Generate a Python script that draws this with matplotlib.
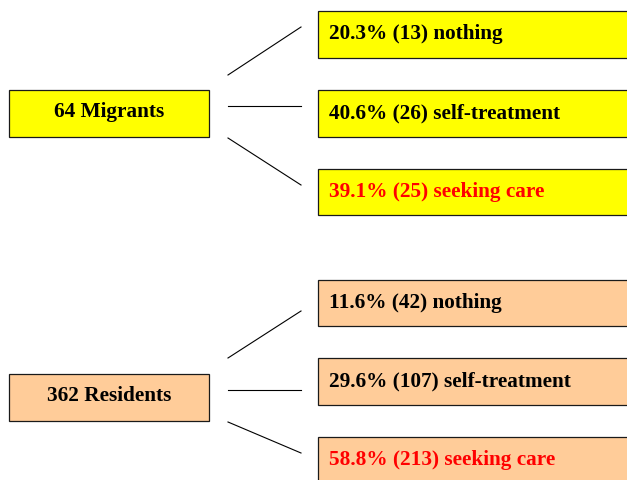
import matplotlib
matplotlib.use("Agg")
import matplotlib.pyplot as plt
from matplotlib.patches import Rectangle

# ---- data ----
groups = ["Migrants", "Residents"]
group_totals = [64, 362]
categories = ["nothing", "self-treatment", "seeking care"]
migrant_pct = [20.3, 40.6, 39.1]
migrant_n = [13, 26, 25]
resident_pct = [11.6, 29.6, 58.8]
resident_n = [42, 107, 213]

# ---- layout (pixel space) ----
W, H = 627, 481
group_colors = ["#FFFF00", "#FFCC99"]
cat_colors = ["black", "black", "#FF0000"]
left_box = dict(x0=9, x1=209)
left_y = [(91, 138), (375, 422)]
right_x0, right_x1 = 318, 640
right_y = [[(12, 59), (91, 138), (170, 216)],
           [(281, 327), (359, 406), (438, 490)]]
line_x0, line_x1 = 228, 301
line_start_y = [[76, 107, 139], [359, 391, 423]]
line_end_y = [[28, 107, 186], [312, 391, 454]]

fig = plt.figure(figsize=(W / 100, H / 100), dpi=100)
ax = fig.add_axes([0, 0, 1, 1])
ax.set_xlim(0, W)
ax.set_ylim(H, 0)
ax.axis("off")

font = dict(family=["Liberation Serif", "DejaVu Serif"], fontweight="bold", fontsize=15.3)


def box(x0, y0, x1, y1, color):
    # soft grey shadow below/right, then the box itself
    ax.add_patch(Rectangle((x0 + 1.2, y0 + 1.2), x1 - x0, y1 - y0,
                           facecolor="#8a8a8a", edgecolor="none", zorder=1))
    ax.add_patch(Rectangle((x0, y0), x1 - x0, y1 - y0,
                           facecolor=color, edgecolor="#1a1a1a", lw=0.9, zorder=2))


pcts = [migrant_pct, resident_pct]
ns = [migrant_n, resident_n]
for g, name in enumerate(groups):
    y0, y1 = left_y[g]
    box(left_box["x0"], y0, left_box["x1"], y1, group_colors[g])
    ax.text((left_box["x0"] + left_box["x1"]) / 2, y0 + 25.7,
            f"{group_totals[g]} {name}", ha="center", va="baseline", color="black",
            zorder=3, **font)
    for i, cat in enumerate(categories):
        ry0, ry1 = right_y[g][i]
        box(right_x0, ry0, right_x1, ry1, group_colors[g])
        ax.text(right_x0 + 11, ry0 + 27, f"{pcts[g][i]:.1f}% ({ns[g][i]}) {cat}",
                ha="left", va="baseline", color=cat_colors[i], zorder=3, **font)
        ax.plot([line_x0, line_x1], [line_start_y[g][i], line_end_y[g][i]],
                color="black", lw=0.8)

fig.savefig("out.png", dpi=100)
